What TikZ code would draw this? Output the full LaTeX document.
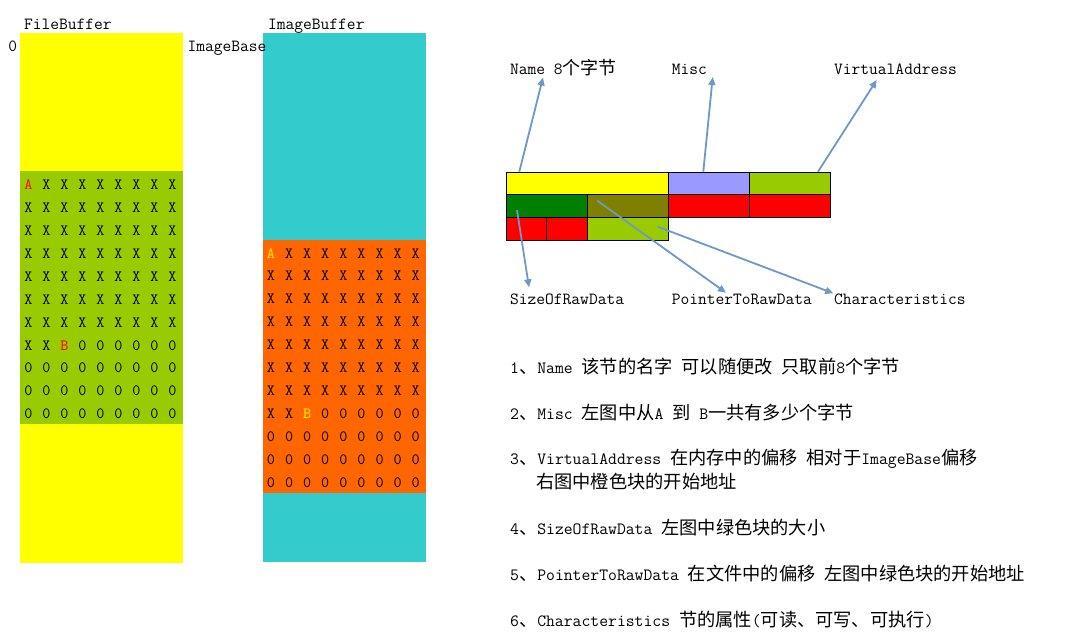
\documentclass[tikz,border=0pt]{standalone}
\usepackage{fontspec}
\setmainfont{Latin Modern Mono}
\newfontfamily\cjk{Noto Sans CJK SC}[Scale=1.06]
\newcommand\zh[1]{{\cjk #1}}
\usetikzlibrary{arrows.meta,calc,positioning}
\definecolor{fileyellow}{HTML}{FFFF00}
\definecolor{datagreen}{HTML}{99CC00}
\definecolor{imgcyan}{HTML}{33CCCC}
\definecolor{imgorange}{HTML}{FF6600}
\definecolor{misclav}{HTML}{9999FF}
\definecolor{sizegreen}{HTML}{008000}
\definecolor{ptrolive}{HTML}{808000}
\definecolor{flagred}{HTML}{FF0000}
\definecolor{arrowblue}{HTML}{6F97C8}

\begin{document}
\begin{tikzpicture}[x=1pt,y=-1pt,
every node/.style={font=\fontsize{15.7}{18}\selectfont},
block/.style={anchor=north west,inner sep=0pt,minimum width=163,draw=none},
field/.style={anchor=north west,inner sep=0pt,draw=black,line width=1pt,minimum height=22.7},
lbl/.style={anchor=base west,inner sep=0pt,font=\fontsize{17}{20}\selectfont},
item/.style={anchor=base west,inner sep=0pt,font=\fontsize{17.2}{20}\selectfont},
arr/.style={draw=arrowblue,line width=1.8pt,-{Triangle[length=8pt,width=7pt]}}]
\useasboundingbox (0,0) rectangle (1073,636);

\node[block,fill=fileyellow,minimum height=530] (fileBuf) at (20,33) {};
\node[block,fill=datagreen,minimum height=253] (fileData) at (20,171) {};
\node[block,fill=imgcyan,minimum height=529] (imgBuf) at (263,33) {};
\node[block,fill=imgorange,minimum height=253] (imgData) at (263,240) {};

\node[lbl] (fileTitle) at (24,29.3) {FileBuffer};
\node[lbl] (imgTitle) at (268,29.3) {ImageBuffer};
\node[lbl] (zero) at (8.3,52) {0};
\node[lbl] (imgBase) at (187.3,52) {ImageBase};

\foreach \r in {1,...,11}{
\foreach \c in {1,...,9}{
\pgfmathtruncatemacro{\k}{(\r-1)*9+\c}
\ifnum\k=1 \def\ch{A}\def\fc{red}\def\ic{yellow}%
\else\ifnum\k=66 \def\ch{B}\def\fc{red}\def\ic{yellow}%
\else\ifnum\k<66 \def\ch{X}\def\fc{black}\def\ic{black}%
\else\def\ch{0}\def\fc{black}\def\ic{black}\fi\fi\fi
\node[inner sep=0pt,text=\fc] (F\r-\c) at ({28.3+(\c-1)*18},{185+(\r-1)*22.9}) {\ch};
\node[inner sep=0pt,text=\ic] (I\r-\c) at ({271+(\c-1)*18.09},{253.3+(\r-1)*22.9}) {\ch};
}}

\node[field,fill=fileyellow,minimum width=162] (nameC) at (506.3,171.7) {};
\node[field,fill=misclav,minimum width=81] (miscC) at (668.3,171.7) {};
\node[field,fill=datagreen,minimum width=81] (vaC) at (749.3,171.7) {};
\node[field,fill=sizegreen,minimum width=81] (sizeC) at (506.3,194.3) {};
\node[field,fill=ptrolive,minimum width=81] (ptrC) at (587.3,194.3) {};
\node[field,fill=flagred,minimum width=81] (redA) at (668.3,194.3) {};
\node[field,fill=flagred,minimum width=81] (redB) at (749.3,194.3) {};
\node[field,fill=flagred,minimum width=39.4] (redC) at (506.3,217) {};
\node[field,fill=flagred,minimum width=41.6] (redD) at (545.7,217) {};
\node[field,fill=datagreen,minimum width=81] (charC) at (587.3,217) {};

\node[lbl] (nameL) at (510,75) {Name 8\zh{个字节}};
\node[lbl] (miscL) at (671.7,75) {Misc};
\node[lbl] (vaL) at (834,75) {VirtualAddress};
\node[lbl] (sizeL) at (510,305) {SizeOfRawData};
\node[lbl] (ptrL) at (671.7,305) {PointerToRawData};
\node[lbl] (charL) at (834,305) {Characteristics};

\draw[arr] ($(nameC.north west)+(13,0)$) -- ($(nameL.base west)+(33,2.5)$);
\draw[arr] ($(miscC.north west)+(35,0)$) -- ($(miscL.base west)+(41,2)$);
\draw[arr] ($(vaC.north west)+(68.7,0)$) -- ($(vaL.base west)+(42.7,5)$);
\draw[arr] ($(sizeC.north west)+(10.7,15.7)$) -- ($(sizeL.base west)+(19,-17.7)$);
\draw[arr] ($(ptrC.north west)+(10,6.4)$) -- ($(ptrL.base west)+(54.3,-12.3)$);
\draw[arr] ($(charC.north west)+(70.4,9.7)$) -- ($(charL.base west)+(-0.7,-11.7)$);

\node[item] (item1) at (510,373.8) {1\zh{、}Name \zh{该节的名字} \zh{可以随便改} \zh{只取前}8\zh{个字节}};
\node[item] (item2) at (510,419.5) {2\zh{、}Misc \zh{左图中从}A \zh{到} B\zh{一共有多少个字节}};
\node[item] (item3) at (510,464.8) {3\zh{、}VirtualAddress \zh{在内存中的偏移} \zh{相对于}ImageBase\zh{偏移}};
\node[item] (item3b) at (536,488.8) {\zh{右图中橙色块的开始地址}};
\node[item] (item4) at (510,534.8) {4\zh{、}SizeOfRawData \zh{左图中绿色块的大小}};
\node[item] (item5) at (510,580.5) {5\zh{、}PointerToRawData \zh{在文件中的偏移} \zh{左图中绿色块的开始地址}};
\node[item] (item6) at (510,626.5) {6\zh{、}Characteristics \zh{节的属性}(\zh{可读、可写、可执行})};

\end{tikzpicture}
\end{document}
